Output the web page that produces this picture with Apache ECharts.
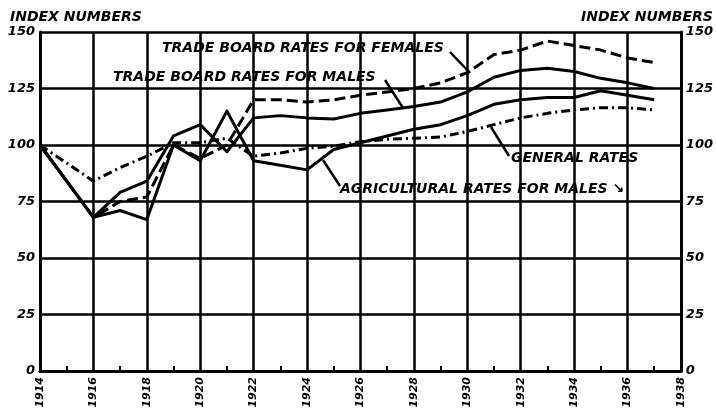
<!DOCTYPE html>
<html>
<head>
<meta charset="utf-8">
<script src="https://cdn.jsdelivr.net/npm/echarts@6/dist/echarts.min.js"></script>
<style>
  html, body { margin: 0; padding: 0; background: #fff; }
  #chart { width: 716px; height: 411px; }
</style>
</head>
<body>
<div id="chart"></div>
<script>
// years and index numbers (1914 = 100)
const years = [1914, 1915, 1916, 1917, 1918, 1919, 1920, 1921, 1922, 1923, 1924, 1925,
  1926, 1927, 1928, 1929, 1930, 1931, 1932, 1933, 1934, 1935, 1936, 1937]
const tbFemales = [100, 84, 68, 75, 77, 100, 94, 100, 120, 120, 119, 120,
  122, 123.5, 125, 127.5, 132, 140, 142, 146, 144, 142, 138.5, 136.5]
const tbMales = [100, 84, 68, 79, 84, 104, 109, 97, 112, 113, 112, 111.5,
  114, 115.5, 117, 119, 123.5, 130, 133, 134, 132.5, 129.5, 127.5, 125]
const generalRates = [100, 92, 84, 90, 95, 101, 101, 103, 95, 96.5, 98.5, 99.5,
  101.5, 102.5, 103, 103.5, 106, 109, 112, 114, 115.5, 116.5, 116.5, 115.5]
const agricMales = [100, 84, 68, 71, 67, 100, 93, 115, 93, 91, 89, 98,
  101, 104, 107, 109, 113, 118, 120, 121, 121, 124, 122, 120]
const yTicks = [0, 25, 50, 75, 100, 125, 150]

const pair = (vals) => years.map((y, i) => [y, vals[i]])

const labelFont = {
  fontFamily: 'DejaVu Sans',
  fontWeight: 'bold',
  fontStyle: 'italic',
  color: '#000'
}

const chart = echarts.init(document.getElementById('chart'))

const lineSeries = (name, vals, type) => ({
  name: name,
  type: 'line',
  data: pair(vals),
  symbol: 'none',
  z: 5,
  lineStyle: { color: '#000', width: 3, type: type, join: 'round' }
})

const yAxisBase = (pos) => ({
  type: 'value',
  position: pos,
  min: 0,
  max: 150,
  interval: 25,
  axisLine: { show: true, lineStyle: { color: '#000', width: 3 } },
  axisTick: { show: false },
  splitLine: { show: pos === 'left', lineStyle: { color: '#000', width: 2.5 } },
  axisLabel: Object.assign({}, labelFont, {
    fontSize: 13,
    margin: 5,
    formatter: (v) => (yTicks.indexOf(v) >= 0 ? String(v) : '')
  })
})

const leaderLine = (x1, y1, x2, y2) => ({
  type: 'line',
  shape: { x1: x1, y1: y1, x2: x2, y2: y2 },
  style: { stroke: '#000', lineWidth: 2.5 },
  z: 10
})

const note = (x, y, text, size) => ({
  type: 'text',
  x: x,
  y: y,
  z: 10,
  style: Object.assign({}, labelFont, {
    text: text,
    fontSize: size || 13,
    fill: '#000',
    textVerticalAlign: 'middle'
  })
})

chart.setOption({
  animation: false,
  backgroundColor: '#fff',
  grid: { left: 40, right: 33, top: 32, bottom: 40 },
  xAxis: {
    type: 'value',
    min: 1914,
    max: 1938,
    interval: 2,
    axisLine: { show: true, onZero: false, lineStyle: { color: '#000', width: 3 } },
    axisTick: { show: false, inside: true },
    minorTick: { show: true, splitNumber: 2, length: 5, lineStyle: { color: '#000', width: 2 } },
    splitLine: { show: true, lineStyle: { color: '#000', width: 2.5 } },
    axisLabel: Object.assign({}, labelFont, {
      fontSize: 11,
      rotate: 90,
      margin: 6,
      formatter: (v) => String(v)
    })
  },
  yAxis: [yAxisBase('left'), yAxisBase('right')],
  series: [
    lineSeries('Trade Board Rates for Females', tbFemales, [11, 5]),
    lineSeries('Trade Board Rates for Males', tbMales, 'solid'),
    lineSeries('General Rates', generalRates, [9, 4, 2, 4]),
    lineSeries('Agricultural Rates for Males', agricMales, 'solid')
  ],
  graphic: [
    note(10, 17, 'INDEX NUMBERS', 14),
    note(581, 17, 'INDEX NUMBERS', 14),
    note(162, 48, 'TRADE BOARD RATES FOR FEMALES', 14),
    leaderLine(450, 52, 470, 73),
    note(113, 77, 'TRADE BOARD RATES FOR MALES', 14),
    leaderLine(385, 80, 403, 108),
    note(511, 158, 'GENERAL RATES', 14),
    leaderLine(509, 156, 491, 127),
    note(340, 189, 'AGRICULTURAL RATES FOR MALES \u2198', 14),
    leaderLine(340, 186, 323, 160)
  ]
})
</script>
</body>
</html>
